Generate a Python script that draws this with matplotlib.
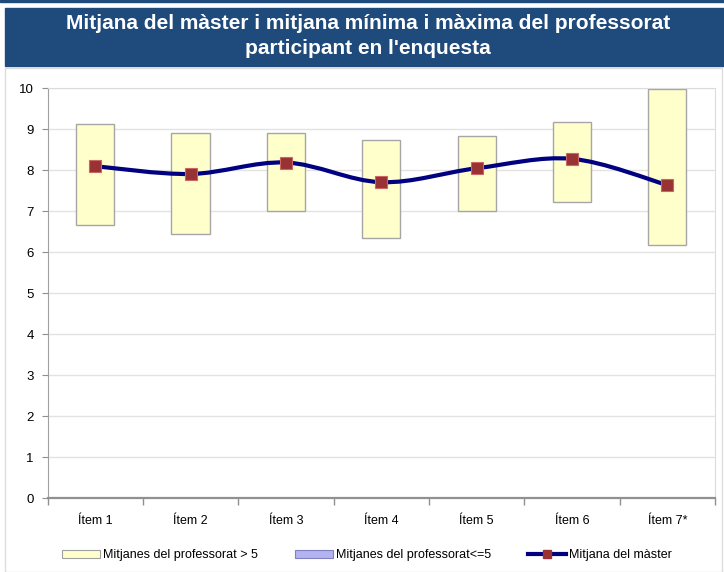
import numpy as np
import matplotlib.pyplot as plt
from matplotlib.patches import Rectangle, Patch, PathPatch
from matplotlib.path import Path
from matplotlib.lines import Line2D

plt.rcParams['font.family'] = ['Liberation Sans', 'DejaVu Sans']

items = ["Ítem 1", "Ítem 2", "Ítem 3", "Ítem 4", "Ítem 5", "Ítem 6", "Ítem 7*"]
prof_min = [6.67, 6.45, 7.00, 6.34, 7.00, 7.22, 6.18]
prof_max = [9.12, 8.90, 8.90, 8.74, 8.84, 9.19, 9.98]
master_mean = [8.10, 7.91, 8.19, 7.71, 8.05, 8.28, 7.64]

title = "Mitjana del màster i mitjana mínima i màxima del professorat\nparticipant en l'enquesta"
leg_labels = ["Mitjanes del professorat > 5", "Mitjanes del professorat<=5",
              "Mitjana del màster"]

NAVY = "#000080"
BANNER = "#1f4a7c"
YELLOW = "#ffffcc"
BLUE = "#b3b3f2"
MARK = "#993333"

fig = plt.figure(figsize=(7.24, 5.72), dpi=100)

# title banner + thin stripe at the very top
fig.patches.append(Rectangle((0, 1 - 2 / 572), 1, 2 / 572, transform=fig.transFigure,
                             color=BANNER, zorder=0))
fig.patches.append(Rectangle((5 / 724, 1 - 66 / 572), 1, 58 / 572, transform=fig.transFigure,
                             color=BANNER, zorder=0))
fig.text(368 / 724, 1 - 36 / 572, title, color="white", fontsize=15, fontweight="bold",
         ha="center", va="center", linespacing=1.45)
# chart area border
fig.patches.append(Rectangle((5 / 724, 0), 717 / 724, 1 - 68 / 572, transform=fig.transFigure,
                             fill=False, edgecolor="#dcdcdc", lw=1, zorder=0))

ax = fig.add_axes([47.5 / 724, 73.7 / 572, 667.5 / 724, 410 / 572])
x = np.arange(len(items)) + 0.5

# min-max boxes
ax.bar(x, np.array(prof_max) - np.array(prof_min), bottom=prof_min, width=0.4,
       color=YELLOW, edgecolor="#a6a6a6", lw=1, zorder=2)

# smoothed line (Bezier through the points)
pts = np.column_stack([x, master_mean])
ext = np.vstack([pts[0], pts, pts[-1]])
verts = [tuple(pts[0])]
codes = [Path.MOVETO]
for i in range(len(pts) - 1):
    p0, p1, p2, p3 = ext[i], ext[i + 1], ext[i + 2], ext[i + 3]
    c1 = p1 + (p2 - p0) / 6
    c2 = p2 - (p3 - p1) / 6
    verts += [tuple(c1), tuple(c2), tuple(p2)]
    codes += [Path.CURVE4] * 3
ax.add_patch(PathPatch(Path(verts, codes), fill=False, edgecolor=NAVY, lw=3, zorder=3,
                       capstyle="round"))
ax.plot(x, master_mean, ls="none", marker="s", ms=9, mfc=MARK, mec="#cc6666", mew=0.8,
        zorder=4)

ax.set_xlim(0, 7)
ax.set_ylim(0, 10)
ax.set_yticks(range(0, 11))
ax.set_xticks(range(0, 8))
ax.set_xticklabels([])
ax.set_xticks(x, minor=True)
ax.set_xticklabels(items, minor=True, fontsize=9)
ax.tick_params(axis="x", which="minor", length=0, pad=12)
ax.tick_params(axis="x", which="major", length=5, color="#909090", width=1)
ax.tick_params(axis="y", length=4, color="#909090", labelsize=9.5, pad=6)
ax.grid(axis="y", color="#e3e3e3", lw=1)
ax.set_axisbelow(True)
for s in ["top", "right"]:
    ax.spines[s].set_color("#dcdcdc")
ax.spines["left"].set_color("#a0a0a0")
ax.spines["bottom"].set_color("#909090")
ax.spines["bottom"].set_linewidth(1.6)

handles = [Patch(facecolor=YELLOW, edgecolor="#a0a0a0", lw=0.8),
           Patch(facecolor=BLUE, edgecolor="#8080c0", lw=0.8),
           Line2D([], [], color=NAVY, lw=3, marker="s", ms=6, mfc=MARK, mec=MARK)]
fig.legend(handles, leg_labels, loc="center", bbox_to_anchor=(0.507, 1 - 555 / 572),
           ncol=3, frameon=False, fontsize=9, handlelength=3.0, handleheight=0.6,
           handletextpad=0.25, columnspacing=3.0)

fig.savefig("out.png", dpi=100)
